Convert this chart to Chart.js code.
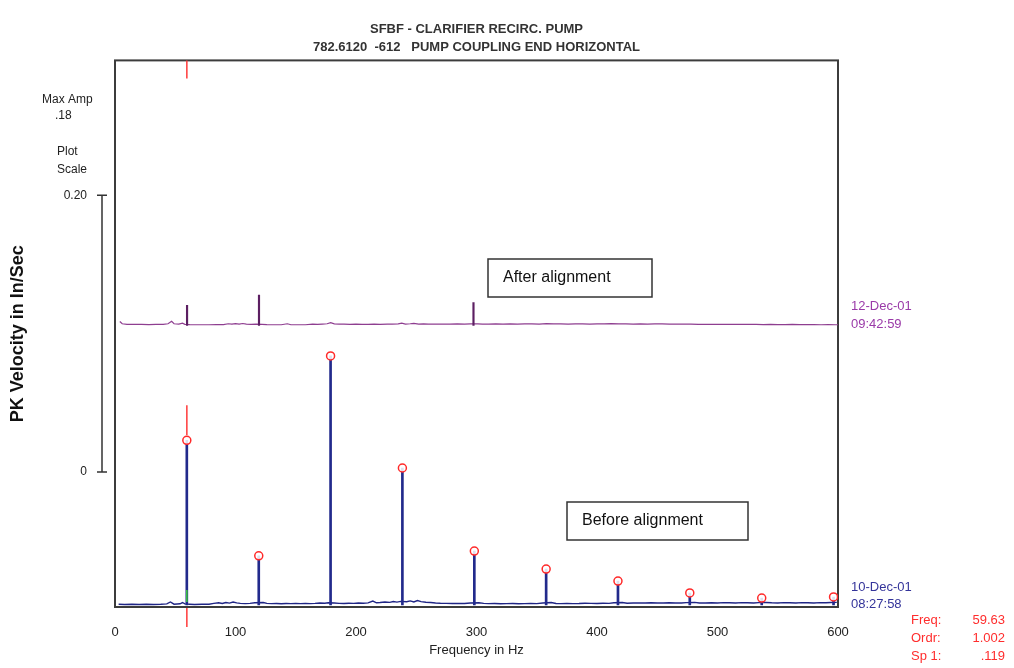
<!DOCTYPE html>
<html>
<head>
<meta charset="utf-8">
<script src="https://cdn.jsdelivr.net/npm/chart.js@4"></script>
<style>
  html, body { margin: 0; padding: 0; background: #fff; }
  #wrap { width: 1014px; height: 668px; }
</style>
</head>
<body>
<div id="wrap"><canvas id="myChart"></canvas></div>
<script>
// titles and labels
const titleLines = ['SFBF - CLARIFIER RECIRC. PUMP', '782.6120  -612   PUMP COUPLING END HORIZONTAL']
const xTicks = [0, 100, 200, 300, 400, 500, 600]
const scaleTicks = [0, 0.20]
const afterLabel = ['12-Dec-01', '09:42:59']
const beforeLabel = ['10-Dec-01', '08:27:58']
const readoutNames = ['Freq:', 'Ordr:', 'Sp 1:']
const readoutValues = ['59.63', '1.002', '.119']
const cursorFreq = 59.63
const maxAmp = '.18'
const afterOffset = 0.202   // second spectrum is stacked above the first

// 10-Dec-01 spectrum (before alignment), in/sec
const harmonicFreq = [59.6, 119.3, 178.9, 238.5, 298.2, 357.8, 417.4, 477.0, 536.7, 596.3]
const beforePeakAmp = [0.119, 0.0355, 0.180, 0.099, 0.039, 0.026, 0.0173, 0.0087, 0.005, 0.0058]
const beforeFloor = [
  [3,.0005],[8,.0004],[14,.0005],[20,.0004],[26,.0005],[32,.0004],[38,.0005],[43,.0008],[46,.0022],[49,.0006],
  [54,.0009],[56,.0018],[58,.0008],[62,.0006],[66,.0004],[72,.0005],[78,.0006],[82,.0012],[86,.0016],[89,.0011],
  [92,.0018],[95,.0014],[98,.0022],[101,.0015],[104,.0012],[108,.0010],[112,.0012],[116,.0016],[123,.0018],[126,.0012],
  [130,.0010],[134,.0011],[138,.0009],[142,.0011],[146,.0010],[150,.0012],[154,.0010],[158,.0011],[162,.0010],[166,.0012],
  [170,.0015],[174,.0013],[177,.0016],[182,.0014],[186,.0012],[190,.0011],[194,.0013],[198,.0012],[202,.0014],[206,.0013],
  [210,.0015],[214,.0028],[217,.0016],[220,.0018],[224,.0022],[228,.0019],[231,.0025],[234,.0021],[237,.0026],[242,.0024],
  [245,.0030],[248,.0022],[251,.0032],[254,.0024],[258,.0020],[262,.0018],[266,.0015],[270,.0013],[275,.0012],[280,.0011],
  [285,.0012],[290,.0011],[295,.0014],[302,.0016],[306,.0012],[310,.0010],[315,.0011],[320,.0009],[325,.0010],[330,.0011],
  [335,.0009],[340,.0010],[345,.0011],[350,.0010],[355,.0015],[362,.0018],[366,.0011],[370,.0010],[375,.0012],[380,.0010],
  [385,.0011],[390,.0013],[395,.0012],[400,.0011],[405,.0013],[410,.0012],[414,.0016],[421,.0018],[425,.0013],[430,.0014],
  [435,.0015],[440,.0014],[445,.0016],[450,.0014],[455,.0015],[460,.0016],[465,.0014],[470,.0015],[474,.0017],[481,.0019],
  [485,.0015],[490,.0014],[495,.0016],[500,.0015],[505,.0017],[510,.0016],[515,.0015],[520,.0017],[525,.0016],[530,.0015],
  [534,.0017],[540,.0018],[545,.0016],[550,.0015],[555,.0017],[560,.0016],[565,.0015],[570,.0017],[575,.0016],[580,.0015],
  [585,.0017],[590,.0016],[594,.0018],[599,.0019]
]

// 12-Dec-01 spectrum (after alignment), in/sec
const afterPeakFreq = [59.8, 119.5, 297.5]
const afterPeakAmp = [0.0145, 0.022, 0.0165]
const afterFloor = [
  [4,.0028],[6,.0012],[10,.0008],[16,.0007],[22,.0007],[28,.0006],[34,.0007],[40,.0008],[44,.0012],[47,.0030],
  [49,.0012],[53,.0010],[56,.0016],[58,.0008],[62,.0006],[66,.0005],[72,.0005],[78,.0005],[84,.0006],[90,.0006],
  [94,.0012],[97,.0009],[100,.0013],[103,.0010],[106,.0014],[109,.0009],[113,.0008],[117,.0010],[122,.0008],[126,.0006],
  [132,.0005],[138,.0005],[143,.0012],[146,.0005],[152,.0005],[158,.0005],[164,.0009],[168,.0007],[172,.0010],[176,.0012],
  [179,.0020],[182,.0011],[186,.0009],[190,.0010],[195,.0008],[200,.0009],[205,.0007],[210,.0008],[215,.0009],[220,.0008],
  [226,.0010],[230,.0009],[235,.0011],[238,.0016],[241,.0010],[245,.0012],[248,.0015],[252,.0010],[256,.0011],[260,.0009],
  [266,.0010],[272,.0009],[278,.0010],[284,.0011],[290,.0010],[295,.0012],[301,.0011],[305,.0009],[310,.0010],[316,.0011],
  [322,.0010],[328,.0012],[334,.0010],[340,.0011],[346,.0012],[352,.0010],[358,.0013],[364,.0011],[370,.0012],[376,.0010],
  [382,.0012],[388,.0011],[394,.0010],[400,.0012],[406,.0011],[412,.0013],[418,.0012],[424,.0011],[430,.0010],[436,.0011],
  [442,.0010],[448,.0012],[454,.0011],[460,.0010],[466,.0009],[472,.0010],[478,.0009],[484,.0008],[490,.0008],[496,.0007],
  [502,.0008],[508,.0007],[514,.0007],[520,.0008],[526,.0007],[532,.0007],[538,.0006],[544,.0007],[550,.0006],[556,.0006],
  [562,.0007],[568,.0006],[574,.0006],[580,.0006],[586,.0005],[592,.0006],[598,.0005],[600,.0005]
]

const FONT = "'Liberation Sans', Arial, sans-serif"
Chart.defaults.font.family = FONT
Chart.defaults.color = '#222'

// draws frame, scale bar, side texts, cursor and note boxes
const extras = {
  id: 'extras',
  beforeDatasetsDraw(chart) {
    const {ctx, chartArea: a} = chart
    ctx.save()
    ctx.strokeStyle = '#3c3c3c'
    ctx.lineWidth = 2
    ctx.strokeRect(a.left, a.top, a.right - a.left, a.bottom - a.top)
    ctx.restore()
  },
  afterDatasetsDraw(chart) {
    const {ctx, chartArea: a, scales} = chart
    const sc = scales.yScale
    const x = scales.x
    const y = scales.y
    ctx.save()

    // plot scale bar
    const top = sc.getPixelForValue(0.2), zero = sc.getPixelForValue(0)
    ctx.strokeStyle = '#333'
    ctx.lineWidth = 1.5
    ctx.beginPath()
    ctx.moveTo(102, top); ctx.lineTo(102, zero)
    ctx.moveTo(97, top); ctx.lineTo(107, top)
    ctx.moveTo(97, zero); ctx.lineTo(107, zero)
    ctx.stroke()

    ctx.fillStyle = '#222'
    ctx.font = '12px ' + FONT
    ctx.textBaseline = 'middle'
    ctx.textAlign = 'left'
    ctx.fillText('Max Amp', 42, 100)
    ctx.fillText(maxAmp, 55, 116)
    ctx.fillText('Plot', 57, 152)
    ctx.fillText('Scale', 57, 170)

    // trace dates
    ctx.font = '13px ' + FONT
    ctx.fillStyle = '#9a3aa8'
    ctx.fillText(afterLabel[0], 851, 306)
    ctx.fillText(afterLabel[1], 851, 324)
    ctx.fillStyle = '#34349a'
    ctx.fillText(beforeLabel[0], 851, 587)
    ctx.fillText(beforeLabel[1], 851, 604)

    // cursor readout
    ctx.fillStyle = '#ff2d2d'
    readoutNames.forEach((n, i) => {
      ctx.textAlign = 'left'
      ctx.fillText(n, 911, 620 + i * 18)
      ctx.textAlign = 'right'
      ctx.fillText(readoutValues[i], 1005, 620 + i * 18)
    })

    // red cursor at running speed
    const cx = x.getPixelForValue(cursorFreq)
    const peakY = y.getPixelForValue(beforePeakAmp[0])
    ctx.strokeStyle = '#ff3a3a'
    ctx.lineWidth = 1.5
    ctx.beginPath()
    ctx.moveTo(cx, a.top); ctx.lineTo(cx, a.top + 18)
    ctx.moveTo(cx, peakY - 5); ctx.lineTo(cx, peakY - 35)
    ctx.moveTo(cx, a.bottom + 1); ctx.lineTo(cx, a.bottom + 20)
    ctx.stroke()
    ctx.strokeStyle = '#3ccc3c'
    ctx.beginPath()
    ctx.moveTo(cx, a.bottom - 17); ctx.lineTo(cx, a.bottom - 5)
    ctx.stroke()

    // note boxes
    ctx.strokeStyle = '#333'
    ctx.lineWidth = 1.5
    ctx.fillStyle = '#111'
    ctx.font = '16px ' + FONT
    ctx.textAlign = 'left'
    ctx.strokeRect(488, 259, 164, 38)
    ctx.fillText('After alignment', 503, 278)
    ctx.strokeRect(567, 502, 181, 38)
    ctx.fillText('Before alignment', 582, 521)
    ctx.restore()
  }
}

const ctx = document.getElementById('myChart')

new Chart(ctx, {
  type: 'line',
  data: {
    datasets: [
      {
        type: 'scatter',
        label: 'harmonic markers',
        data: harmonicFreq.map((f, i) => ({x: f, y: beforePeakAmp[i]})),
        pointStyle: 'circle',
        pointRadius: 4,
        borderWidth: 1.5,
        borderColor: '#ff2a2a',
        backgroundColor: 'rgba(255,255,255,0.85)',
        order: 0
      },
      {
        type: 'bar',
        label: 'before peaks',
        data: harmonicFreq.map((f, i) => ({x: f, y: [0, beforePeakAmp[i]]})),
        backgroundColor: '#222a8c',
        barThickness: 2,
        grouped: false,
        order: 1
      },
      {
        label: 'before floor',
        data: beforeFloor.map(p => ({x: p[0], y: p[1]})),
        borderColor: '#1f2585',
        borderWidth: 1.4,
        pointRadius: 0,
        tension: 0,
        order: 2
      },
      {
        type: 'bar',
        label: 'after peaks',
        data: afterPeakFreq.map((f, i) => ({x: f, y: [afterOffset, afterOffset + afterPeakAmp[i]]})),
        backgroundColor: '#5c1f62',
        barThickness: 1.5,
        grouped: false,
        order: 3
      },
      {
        label: 'after floor',
        data: afterFloor.map(p => ({x: p[0], y: afterOffset + p[1]})),
        borderColor: '#8e3e90',
        borderWidth: 1.2,
        pointRadius: 0,
        tension: 0,
        order: 4
      }
    ]
  },
  options: {
    responsive: true,
    maintainAspectRatio: false,
    animation: false,
    layout: { padding: { left: 0, right: 176, top: 0, bottom: 6 } },
    plugins: {
      legend: { display: false },
      tooltip: { enabled: false },
      title: {
        display: true,
        text: titleLines,
        fullSize: false,
        color: '#333',
        font: { size: 13, weight: 'bold', lineHeight: 1.4 },
        padding: { top: 20, bottom: 4 }
      }
    },
    scales: {
      x: {
        type: 'linear',
        min: 0,
        max: 600,
        offset: false,
        grid: { display: false, drawTicks: false },
        border: { display: false },
        afterBuildTicks: s => { s.ticks = xTicks.map(v => ({value: v})) },
        afterFit: s => { s.height = 55 },
        ticks: { padding: 18, maxRotation: 0, font: { size: 13 }, color: '#222' },
        title: { display: true, text: 'Frequency in Hz', color: '#222', font: { size: 13 }, padding: { top: 4, bottom: 4 } }
      },
      y: {
        type: 'linear',
        display: false,
        min: -0.00144,
        max: 0.3935
      },
      yScale: {
        type: 'linear',
        axis: 'y',
        position: 'left',
        min: -0.0975,
        max: 0.2975,
        grid: { display: false, drawTicks: false },
        border: { display: false },
        afterBuildTicks: s => { s.ticks = scaleTicks.map(v => ({value: v})) },
        afterFit: s => { s.width = 115 },
        ticks: {
          padding: 28,
          font: { size: 12 },
          color: '#222',
          callback: v => v === 0 ? '0' : v.toFixed(2)
        },
        title: {
          display: true,
          text: 'PK Velocity in In/Sec',
          color: '#111',
          font: { size: 18, weight: 'bold' },
          padding: { top: 7, bottom: 0 }
        }
      }
    }
  },
  plugins: [extras]
})
</script>
</body>
</html>
